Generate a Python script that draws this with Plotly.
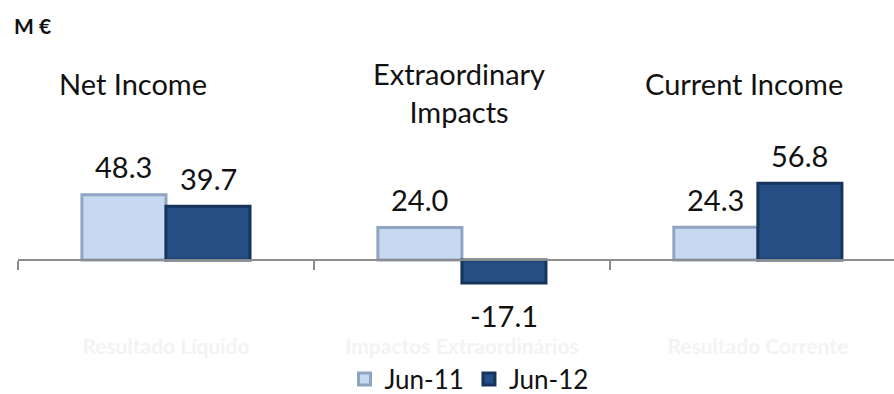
import plotly.graph_objects as go

categories = ["Resultado Líquido", "Impactos Extraordinários", "Resultado Corrente"]
titles = ["Net Income", "Extraordinary<br>Impacts", "Current Income"]
series_names = ["Jun-11", "Jun-12"]
jun11 = [48.3, 24.0, 24.3]
jun12 = [39.7, -17.1, 56.8]
unit_label = "M €"

W, H = 894, 394
ML, MR, MT, MB = 18, 0, 0, 0
BASE_PX = 260          # pixel row of the zero line
PX_PER_UNIT = 1.352
y_range = [-(H - BASE_PX) / PX_PER_UNIT, BASE_PX / PX_PER_UNIT]
zero_pos = -y_range[0] / (y_range[1] - y_range[0])
BARGAP = 0.432
bar_off = (1 - BARGAP) / 4

FONT = "Lato"


def px_x(xp):
    return (xp - ML) / (W - ML - MR)


def px_y(yp):
    return (H - MB - yp) / (H - MT - MB)


fig = go.Figure()
fig.add_trace(go.Bar(
    x=categories, y=jun11, name=series_names[0],
    marker=dict(color="#C6D9F0", line=dict(color="#8FA5C0", width=3)),
))
fig.add_trace(go.Bar(
    x=categories, y=jun12, name=series_names[1],
    marker=dict(color="#244E84", line=dict(color="#16345C", width=3)),
))

# value labels
for vals, off in ((jun11, -bar_off), (jun12, bar_off)):
    for i, v in enumerate(vals):
        fig.add_annotation(
            x=i + off, y=v, xref="x", yref="y",
            text=f"{v:.1f}", showarrow=False,
            yanchor="middle", yshift=28 if v >= 0 else -32,
            font=dict(family=FONT, size=29, color="#111111"),
        )

# category titles
title_x = [133, 459, 744]
title_y = [84, 92, 84]
for t, xp, yp in zip(titles, title_x, title_y):
    fig.add_annotation(
        x=px_x(xp), y=px_y(yp), xref="paper", yref="paper",
        text=t, showarrow=False, xanchor="center", yanchor="middle",
        font=dict(family=FONT, size=29, color="#111111"),
    )

fig.add_annotation(
    x=px_x(12), y=px_y(25), xref="paper", yref="paper",
    text="<b>" + unit_label + "</b>", showarrow=False, xanchor="left", yanchor="middle",
    font=dict(family=FONT, size=21, color="#111111"),
)

fig.update_layout(
    width=W, height=H,
    margin=dict(l=ML, r=MR, t=MT, b=MB, autoexpand=False),
    paper_bgcolor="white", plot_bgcolor="white",
    barmode="group", bargap=BARGAP, bargroupgap=0,
    showlegend=True,
    legend=dict(
        orientation="h",
        x=px_x(469), y=px_y(379), xanchor="center", yanchor="middle",
        font=dict(family=FONT, size=26, color="#111111"),
        bgcolor="rgba(0,0,0,0)",
    ),
    xaxis=dict(
        type="category", range=[-0.5, 2.46],
        anchor="free", position=zero_pos,
        showline=True, linecolor="#8C8C8C", linewidth=2,
        ticks="outside", tickson="boundaries", ticklen=9, tickwidth=2, tickcolor="#8C8C8C",
        tickfont=dict(family=FONT, size=21, color="#F3F3F3", weight="bold"),
        ticklabelstandoff=68,
        showgrid=False, zeroline=False,
    ),
    yaxis=dict(range=y_range, visible=False, showgrid=False, zeroline=False),
)

fig.write_html("out.html")
